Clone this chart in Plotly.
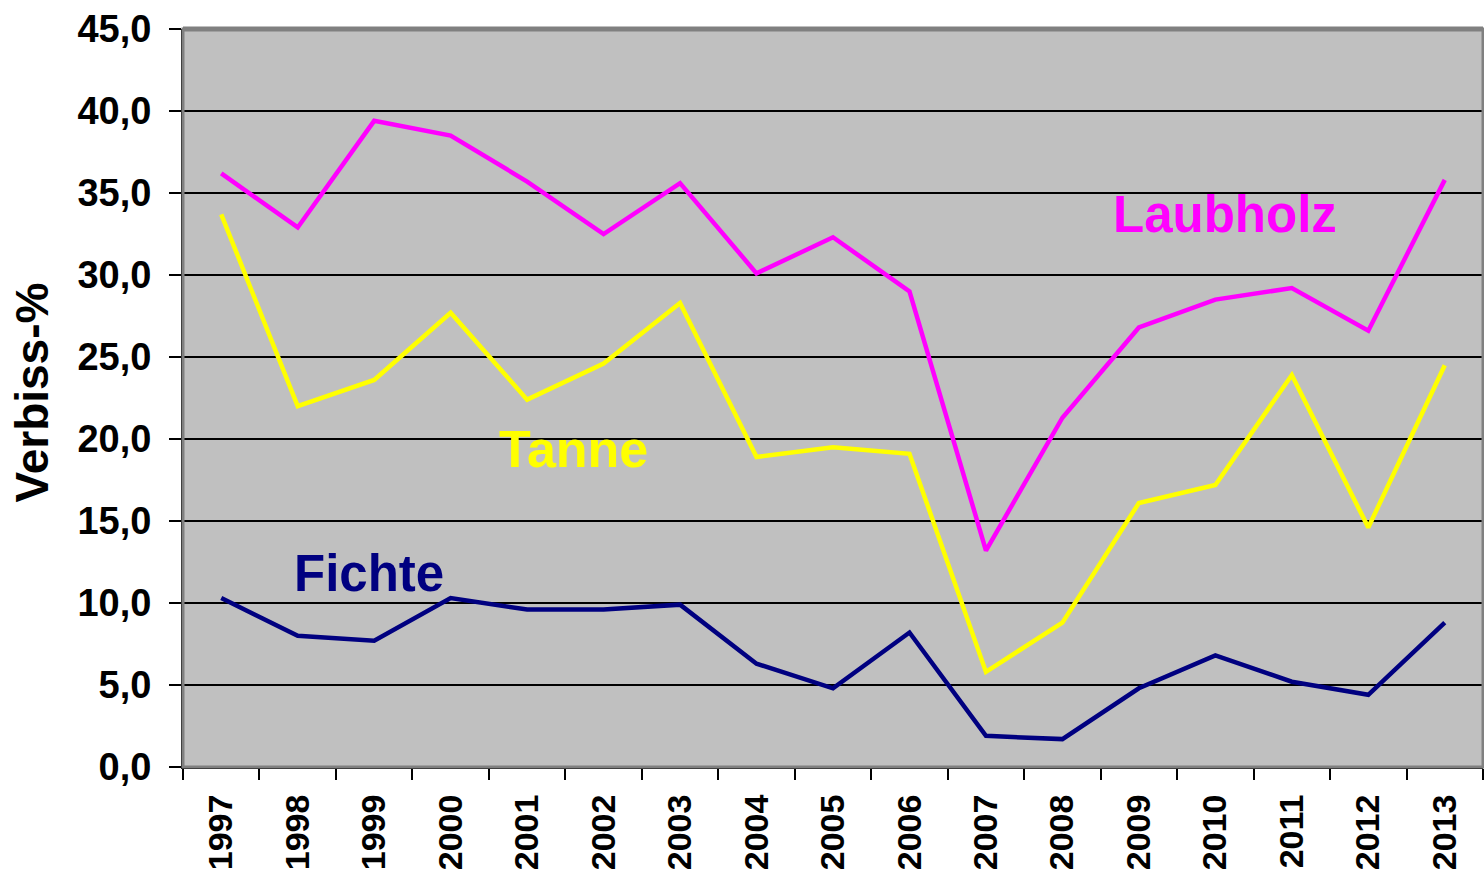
import plotly.graph_objects as go

years = ["1997", "1998", "1999", "2000", "2001", "2002", "2003", "2004", "2005",
         "2006", "2007", "2008", "2009", "2010", "2011", "2012", "2013"]
laubholz = [36.2, 32.9, 39.4, 38.5, 35.7, 32.5, 35.6, 30.1, 32.3,
            29.0, 13.2, 21.3, 26.8, 28.5, 29.2, 26.6, 35.8]
tanne = [33.7, 22.0, 23.6, 27.7, 22.4, 24.6, 28.3, 18.9, 19.5,
         19.1, 5.8, 8.8, 16.1, 17.2, 23.9, 14.6, 24.5]
fichte = [10.3, 8.0, 7.7, 10.3, 9.6, 9.6, 9.9, 6.3, 4.8,
          8.2, 1.9, 1.7, 4.8, 6.8, 5.2, 4.4, 8.8]
y_ticks = [0, 5, 10, 15, 20, 25, 30, 35, 40, 45]
y_tick_labels = ["0,0", "5,0", "10,0", "15,0", "20,0", "25,0", "30,0", "35,0", "40,0", "45,0"]

FONT = "Liberation Sans, Arial, sans-serif"

fig = go.Figure()
fig.add_trace(go.Scatter(x=years, y=laubholz, mode="lines", name="Laubholz",
                         line=dict(color="#FF00FF", width=4.5)))
fig.add_trace(go.Scatter(x=years, y=tanne, mode="lines", name="Tanne",
                         line=dict(color="#FFFF00", width=4.5)))
fig.add_trace(go.Scatter(x=years, y=fichte, mode="lines", name="Fichte",
                         line=dict(color="#000080", width=4.5)))

ann_font = dict(family=FONT, size=51, weight="bold")
fig.add_annotation(x=13.12, y=33.7, xref="x", yref="y", text="<b>Laubholz</b>",
                   showarrow=False, font=dict(ann_font, color="#FF00FF"))
fig.add_annotation(x=4.6, y=19.4, xref="x", yref="y", text="<b>Tanne</b>",
                   showarrow=False, font=dict(ann_font, size=52, color="#FFFF00"))
fig.add_annotation(x=1.93, y=11.8, xref="x", yref="y", text="<b>Fichte</b>",
                   showarrow=False, font=dict(ann_font, color="#000080"))

# y-axis title as rotated annotation
fig.add_annotation(x=(31.5 - 183) / 1300, y=(767 - 393) / 738, xref="paper", yref="paper",
                   text="<b>Verbiss-%</b>", textangle=-90, showarrow=False,
                   xanchor="center", yanchor="middle",
                   font=dict(family=FONT, size=46, color="black"))

# plot frame (grey shadow border)
fig.add_shape(type="rect", xref="paper", yref="paper", x0=0, x1=1, y0=0, y1=1,
              line=dict(color="#808080", width=3), layer="above")
fig.add_shape(type="line", xref="paper", yref="paper", x0=0, x1=1, y0=1, y1=1,
              line=dict(color="#808080", width=5), layer="above")

fig.update_layout(
    width=1484, height=875,
    margin=dict(l=183, r=1, t=29, b=108),
    paper_bgcolor="white",
    plot_bgcolor="#C0C0C0",
    showlegend=False,
    font=dict(family=FONT, color="black"),
)
fig.update_xaxes(
    type="category",
    tickson="boundaries",
    ticks="outside", ticklen=11, tickwidth=2, tickcolor="black",
    tickangle=-90,
    tickfont=dict(family=FONT, size=34, weight="bold", color="black"),
    ticklabelstandoff=12,
    showgrid=False,
    showline=True, linecolor="black", linewidth=2,
    zeroline=False,
    range=[-0.5, 16.5],
)
fig.update_yaxes(
    range=[0, 45],
    tickvals=y_ticks, ticktext=y_tick_labels,
    ticks="outside", ticklen=12, tickwidth=2, tickcolor="black",
    tickfont=dict(family=FONT, size=38, weight="bold", color="black"),
    ticklabelstandoff=10,
    showgrid=True, gridcolor="black", gridwidth=2,
    showline=True, linecolor="black", linewidth=2,
    zeroline=False,
)

fig.write_html("out.html",
               config={"displayModeBar": False},
               post_script="document.body.style.margin='0';document.body.style.overflow='hidden';")
